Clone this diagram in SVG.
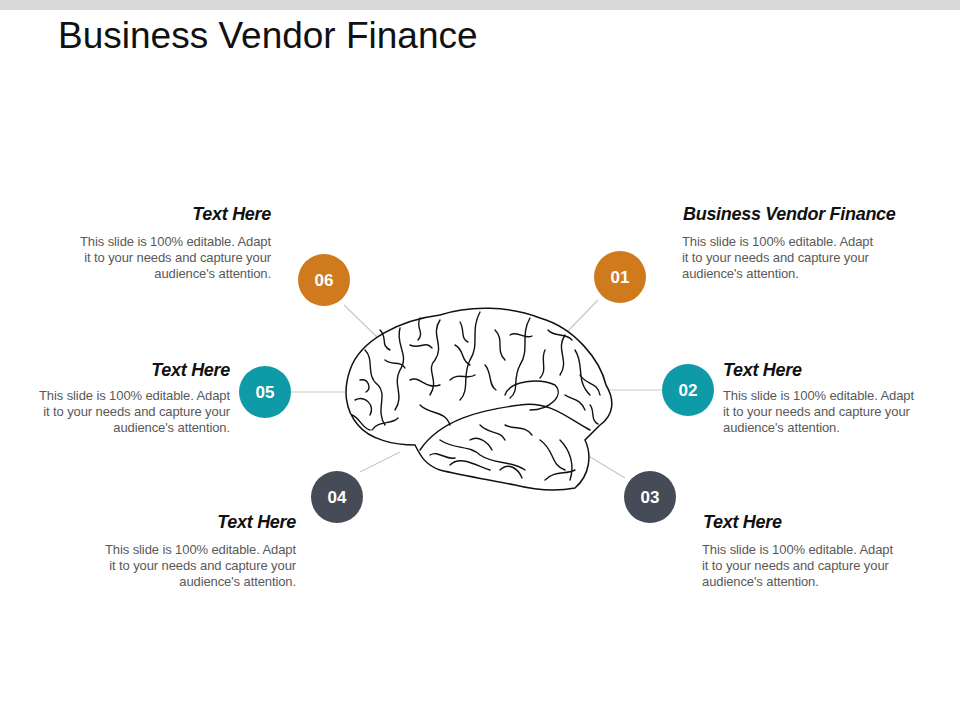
<svg xmlns="http://www.w3.org/2000/svg" width="960" height="720" viewBox="0 0 960 720">
<style>
.h{font-family:"Liberation Sans",Arial,sans-serif;font-size:18px;font-weight:bold;font-style:italic;fill:#111;letter-spacing:-0.3px}
.b{font-family:"Liberation Sans",Arial,sans-serif;font-size:13px;fill:#595959;letter-spacing:-0.1px}
.n{font-family:"Liberation Sans",Arial,sans-serif;font-size:17px;font-weight:bold;fill:#fff}
.c{stroke:#c8c8c8;stroke-width:1.2;fill:none}
.f{fill:none;stroke:#111;stroke-width:1.4;stroke-linecap:round}
</style>
<rect x="0" y="0" width="960" height="10" fill="#d9d9d9"/>
<text x="58" y="48" font-family="Liberation Sans,Arial,sans-serif" font-size="37" fill="#111">Business Vendor Finance</text>
<g id="connectors">
<line class="c" x1="344" y1="305" x2="378" y2="338"/>
<line class="c" x1="598" y1="300" x2="567" y2="332"/>
<line class="c" x1="291" y1="392" x2="345" y2="392"/>
<line class="c" x1="662" y1="390" x2="610" y2="390"/>
<line class="c" x1="360" y1="472" x2="400" y2="452"/>
<line class="c" x1="625" y1="478" x2="587" y2="455"/>
</g>
<g id="brain">
<path fill="#fff" stroke="#111" stroke-width="1.5" d="M350,370 C360,340 400,320 440,315 C470,305 510,306 540,318 C575,328 600,360 606,385 C615,400 614,415 600,425 L585,440 C592,455 590,475 575,488 C555,492 535,490 515,485 C490,480 460,475 440,470 C425,465 420,455 415,445 C395,445 370,440 358,425 C345,410 343,390 350,370 Z"/>
<path class="f" d="M420,450 C440,420 480,410 520,405 C550,400 570,420 590,430"/>
<path class="f" d="M505,395 C510,380 540,378 555,385 C565,395 550,410 530,410"/>
<path class="f" d="M480,312 C470,330 480,345 470,360 C462,375 470,390 460,400"/>
<path class="f" d="M530,318 C520,335 530,350 520,365 C512,380 520,390 510,398"/>
<path class="f" d="M400,328 C395,345 410,355 400,370 C392,385 405,395 395,410"/>
<path class="f" d="M440,320 C430,335 445,345 435,360 M435,360 C425,370 440,380 430,395"/>
<path class="f" d="M365,350 C375,360 365,375 378,385 C388,395 375,410 385,425"/>
<path class="f" d="M565,335 C555,350 570,360 560,375 M575,350 C585,365 575,380 590,395"/>
<path class="f" d="M440,440 C455,450 470,445 480,455 C495,465 510,460 525,470"/>
<path class="f" d="M450,465 C460,455 475,465 490,470 M540,440 C555,450 550,465 565,470"/>
<path class="f" d="M560,440 C570,450 575,465 570,480 M545,480 C555,470 565,475 575,470"/>
<path class="f" d="M355,400 C365,395 375,405 370,415 M410,380 C420,375 425,390 440,385"/>
<path class="f" d="M455,345 C465,350 460,360 470,365 M495,330 C505,340 495,350 505,360"/>
<path class="f" d="M545,350 C540,360 548,370 540,378 M590,405 C595,410 590,420 598,424"/>
<path class="f" d="M420,405 C430,415 445,410 450,425 M480,425 C490,435 500,430 505,440"/>
<path class="f" d="M380,330 C388,338 380,345 390,350 M420,318 C415,328 425,332 418,340"/>
<path class="f" d="M360,380 C368,378 372,388 366,392 M385,360 C392,366 400,360 405,368"/>
<path class="f" d="M450,380 C458,372 468,380 475,375 M485,365 C492,372 488,385 496,390"/>
<path class="f" d="M510,335 C518,330 525,340 532,336 M548,330 C555,338 565,332 572,340"/>
<path class="f" d="M580,375 C586,385 598,382 600,395 M565,395 C572,400 580,398 585,410"/>
<path class="f" d="M470,440 C478,435 488,442 492,450 M505,425 C515,430 525,425 532,435"/>
<path class="f" d="M430,455 C438,450 445,460 455,458 M500,470 C508,462 518,468 522,478"/>
<path class="f" d="M372,430 C378,420 392,425 398,418 M352,415 C360,418 362,428 370,430"/>
<path class="f" d="M410,345 C420,350 425,340 432,348 M460,322 C465,330 460,338 468,342"/>
</g>
<g id="n06"><circle cx="324" cy="280" r="26" fill="#D07A1E"/><text class="n" x="324" y="286" text-anchor="middle">06</text>
<text class="h" x="271" y="220" text-anchor="end">Text Here</text>
<text class="b" text-anchor="end"><tspan x="271" y="246">This slide is 100% editable. Adapt</tspan><tspan x="271" y="262">it to your needs and capture your</tspan><tspan x="271" y="278">audience's attention.</tspan></text></g>
<g id="n01"><circle cx="620" cy="277" r="26" fill="#D07A1E"/><text class="n" x="620" y="283" text-anchor="middle">01</text>
<text class="h" x="683" y="220">Business Vendor Finance</text>
<text class="b"><tspan x="682" y="246">This slide is 100% editable. Adapt</tspan><tspan x="682" y="262">it to your needs and capture your</tspan><tspan x="682" y="278">audience's attention.</tspan></text></g>
<g id="n05"><circle cx="265" cy="392" r="26" fill="#0E9AA7"/><text class="n" x="265" y="398" text-anchor="middle">05</text>
<text class="h" x="230" y="376" text-anchor="end">Text Here</text>
<text class="b" text-anchor="end"><tspan x="230" y="400">This slide is 100% editable. Adapt</tspan><tspan x="230" y="416">it to your needs and capture your</tspan><tspan x="230" y="432">audience's attention.</tspan></text></g>
<g id="n02"><circle cx="688" cy="390" r="26" fill="#0E9AA7"/><text class="n" x="688" y="396" text-anchor="middle">02</text>
<text class="h" x="723" y="376">Text Here</text>
<text class="b"><tspan x="723" y="400">This slide is 100% editable. Adapt</tspan><tspan x="723" y="416">it to your needs and capture your</tspan><tspan x="723" y="432">audience's attention.</tspan></text></g>
<g id="n04"><circle cx="337" cy="497" r="26" fill="#464C57"/><text class="n" x="337" y="503" text-anchor="middle">04</text>
<text class="h" x="296" y="528" text-anchor="end">Text Here</text>
<text class="b" text-anchor="end"><tspan x="296" y="554">This slide is 100% editable. Adapt</tspan><tspan x="296" y="570">it to your needs and capture your</tspan><tspan x="296" y="586">audience's attention.</tspan></text></g>
<g id="n03"><circle cx="650" cy="497" r="26" fill="#464C57"/><text class="n" x="650" y="503" text-anchor="middle">03</text>
<text class="h" x="703" y="528">Text Here</text>
<text class="b"><tspan x="702" y="554">This slide is 100% editable. Adapt</tspan><tspan x="702" y="570">it to your needs and capture your</tspan><tspan x="702" y="586">audience's attention.</tspan></text></g>
</svg>
